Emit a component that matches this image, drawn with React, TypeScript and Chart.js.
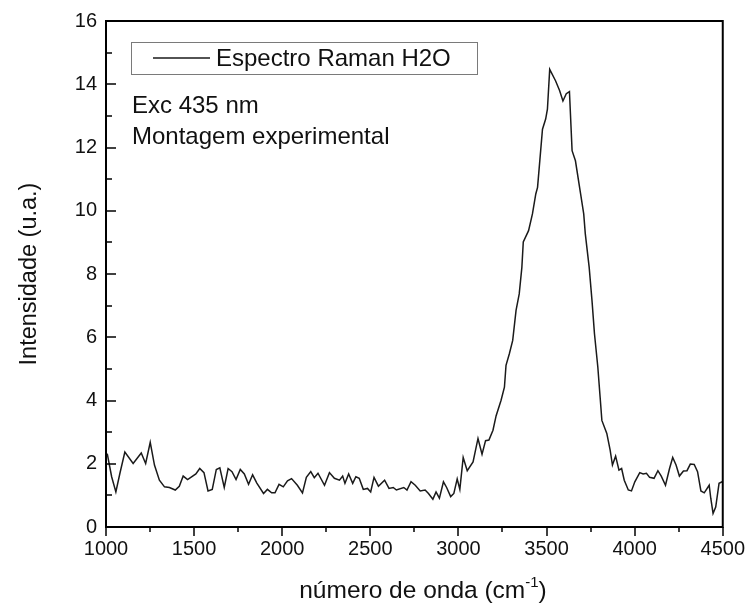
import React, { useEffect, useRef } from "react";
import { Chart, registerables } from "chart.js";

Chart.register(...registerables);

// ---- data ----
const wavenumbers = [
  1007, 1032, 1056, 1079, 1107, 1154, 1200, 1225, 1251, 1275, 1303, 1332, 1360, 1393, 1416, 1438, 1463,
  1510, 1532, 1556, 1579, 1603, 1626, 1646, 1671, 1693, 1715, 1738, 1762, 1785, 1809, 1832, 1856, 1894,
  1916, 1940, 1959, 1982, 2006, 2030, 2053, 2086, 2115, 2137, 2162, 2182, 2203, 2240, 2268, 2296, 2325,
  2343, 2356, 2377, 2400, 2418, 2437, 2460, 2484, 2502, 2521, 2546, 2581, 2606, 2630, 2648, 2690, 2708,
  2731, 2755, 2783, 2811, 2830, 2855, 2873, 2892, 2915, 2933, 2956, 2974, 2993, 3008, 3027, 3050, 3083,
  3111, 3134, 3154, 3173, 3196, 3214, 3242, 3261, 3270, 3289, 3308, 3327, 3345, 3360, 3368, 3398, 3420,
  3439, 3449, 3477, 3495, 3505, 3518, 3551, 3574, 3593, 3612, 3630, 3645, 3664, 3692, 3711, 3720, 3742,
  3758, 3772, 3791, 3804, 3814, 3842, 3861, 3874, 3892, 3911, 3926, 3941, 3964, 3982, 4001, 4029, 4048,
  4067, 4085, 4110, 4132, 4151, 4175, 4198, 4216, 4235, 4254, 4277, 4297, 4316, 4338, 4357, 4376, 4395,
  4423, 4432, 4445, 4460, 4479, 4500,
];

const intensities = [
  2.32, 1.59, 1.11, 1.70, 2.37, 2.01, 2.34, 2.01, 2.68, 1.96, 1.48, 1.27, 1.25, 1.17, 1.29, 1.61, 1.50,
  1.68, 1.85, 1.72, 1.14, 1.19, 1.82, 1.87, 1.25, 1.85, 1.75, 1.50, 1.82, 1.68, 1.35, 1.65, 1.39, 1.06,
  1.19, 1.08, 1.08, 1.35, 1.27, 1.46, 1.53, 1.32, 1.08, 1.57, 1.75, 1.56, 1.70, 1.32, 1.72, 1.54, 1.48,
  1.61, 1.38, 1.68, 1.38, 1.59, 1.54, 1.19, 1.22, 1.11, 1.57, 1.29, 1.48, 1.22, 1.25, 1.17, 1.25, 1.17,
  1.43, 1.32, 1.14, 1.17, 1.06, 0.88, 1.11, 0.91, 1.43, 1.25, 0.96, 1.06, 1.52, 1.19, 2.20, 1.78, 2.06,
  2.80, 2.30, 2.73, 2.75, 3.06, 3.52, 4.01, 4.42, 5.11, 5.48, 5.90, 6.85, 7.37, 8.21, 9.01, 9.37, 9.90,
  10.53, 10.74, 12.58, 12.90, 13.21, 14.47, 14.11, 13.80, 13.47, 13.70, 13.77, 11.90, 11.58, 10.58, 9.90, 9.27, 8.21,
  7.16, 6.11, 5.06, 4.11, 3.37, 2.96, 2.43, 1.96, 2.24, 1.80, 1.85, 1.48, 1.17, 1.14, 1.43, 1.72, 1.68,
  1.70, 1.57, 1.54, 1.78, 1.61, 1.32, 1.85, 2.20, 1.96, 1.61, 1.77, 1.78, 1.99, 1.98, 1.75, 1.14, 1.08,
  1.32, 0.91, 0.43, 0.63, 1.38, 1.44,
];

const xMin = 1000;
const xMax = 4500;
const xMajorStep = 500;
const xMinorStep = 250;
const yMin = 0;
const yMax = 16;
const yMajorStep = 2;
const yMinorStep = 1;

const seriesLabel = "Espectro Raman H2O";
const noteLines = ["Exc 435 nm", "Montagem experimental"];
const xTitleMain = "número de onda (cm";
const xTitleSup = "-1";
const xTitleEnd = ")";
const yTitle = "Intensidade (u.a.)";

const FONT = "'Liberation Sans', Arial, Helvetica, sans-serif";
const INK = "#111111";

const decorPlugin = {
  id: "decor",
  afterDraw(chart: any) {
    const { ctx, chartArea, scales } = chart;
    const xs = scales.x;
    const ys = scales.y;
    ctx.save();
    ctx.strokeStyle = "#000";
    ctx.lineWidth = 1.5;
    // x ticks (outward)
    for (let v = xMin; v <= xMax + 1e-6; v += xMinorStep) {
      const px = Math.round(xs.getPixelForValue(v));
      const major = Math.abs(v % xMajorStep) < 1e-6;
      const len = major ? 9 : 5;
      ctx.beginPath();
      ctx.moveTo(px, chartArea.bottom);
      ctx.lineTo(px, chartArea.bottom + len);
      ctx.stroke();
    }
    // y ticks (inward)
    for (let v = yMin; v <= yMax + 1e-6; v += yMinorStep) {
      const py = Math.round(ys.getPixelForValue(v));
      const major = Math.abs(v % yMajorStep) < 1e-6;
      const len = major ? 10 : 6;
      ctx.beginPath();
      ctx.moveTo(chartArea.left, py);
      ctx.lineTo(chartArea.left + len, py);
      ctx.stroke();
    }
    // frame
    ctx.lineWidth = 2;
    ctx.strokeRect(chartArea.left, chartArea.top, chartArea.right - chartArea.left, chartArea.bottom - chartArea.top);

    // legend box
    const ds = chart.data.datasets[0];
    ctx.lineWidth = 1;
    ctx.strokeStyle = "#7a7a7a";
    ctx.strokeRect(131.5, 42.5, 346, 32);
    ctx.strokeStyle = ds.borderColor;
    ctx.lineWidth = 1.5;
    ctx.beginPath();
    ctx.moveTo(153, 58);
    ctx.lineTo(210, 58);
    ctx.stroke();
    ctx.fillStyle = INK;
    ctx.font = `24px ${FONT}`;
    ctx.textAlign = "left";
    ctx.textBaseline = "alphabetic";
    ctx.fillText(ds.label, 216, 66);

    // notes
    ctx.fillText(noteLines[0], 132, 113);
    ctx.fillText(noteLines[1], 132, 144);

    // x axis title with superscript
    const mainFont = `24.5px ${FONT}`;
    const supFont = `15px ${FONT}`;
    ctx.font = mainFont;
    const wMain = ctx.measureText(xTitleMain).width;
    const wEnd = ctx.measureText(xTitleEnd).width;
    ctx.font = supFont;
    const wSup = ctx.measureText(xTitleSup).width;
    const total = wMain + wSup + wEnd;
    const cx = 423;
    let x0 = cx - total / 2;
    const base = 598;
    ctx.font = mainFont;
    ctx.fillText(xTitleMain, x0, base);
    x0 += wMain;
    ctx.font = supFont;
    ctx.fillText(xTitleSup, x0, base - 11);
    x0 += wSup;
    ctx.font = mainFont;
    ctx.fillText(xTitleEnd, x0, base);
    ctx.restore();
  },
};

export default function App() {
  const canvasRef = useRef<HTMLCanvasElement | null>(null);

  useEffect(() => {
    if (!canvasRef.current) return;
    const points = wavenumbers.map((x, i) => ({ x, y: intensities[i] }));
    const chart = new Chart(canvasRef.current, {
      type: "scatter",
      data: {
        datasets: [
          {
            label: seriesLabel,
            data: points,
            showLine: true,
            pointRadius: 0,
            borderColor: "#1a1a1a",
            borderWidth: 1.5,
            tension: 0,
          },
        ],
      },
      options: {
        animation: false,
        responsive: false,
        devicePixelRatio: 1,
        layout: { padding: { left: 0, right: 26, top: 21, bottom: 0 } },
        plugins: {
          legend: { display: false },
          tooltip: { enabled: false },
        },
        scales: {
          x: {
            type: "linear",
            min: xMin,
            max: xMax,
            grid: { display: false, drawTicks: false },
            border: { display: false },
            ticks: {
              stepSize: xMajorStep,
              color: INK,
              padding: 10,
              font: { family: FONT, size: 20 },
              callback: (v: any) => String(v),
            },
            afterFit: (s: any) => {
              s.height = 80;
            },
          },
          y: {
            type: "linear",
            min: yMin,
            max: yMax,
            grid: { display: false, drawTicks: false },
            border: { display: false },
            ticks: {
              stepSize: yMajorStep,
              color: INK,
              padding: 9,
              font: { family: FONT, size: 20 },
              callback: (v: any) => String(v),
            },
            title: {
              display: true,
              text: yTitle,
              color: INK,
              font: { family: FONT, size: 23.5 },
              padding: { top: 15, bottom: 0 },
            },
            afterFit: (s: any) => {
              s.width = 106;
            },
          },
        },
      },
      plugins: [decorPlugin],
    });
    return () => chart.destroy();
  }, []);

  return (
    <div style={{ position: "absolute", left: 0, top: 0, width: 755, height: 607, background: "#fff" }}>
      <canvas ref={canvasRef} width={755} height={607} style={{ width: 755, height: 607, display: "block" }} />
    </div>
  );
}
